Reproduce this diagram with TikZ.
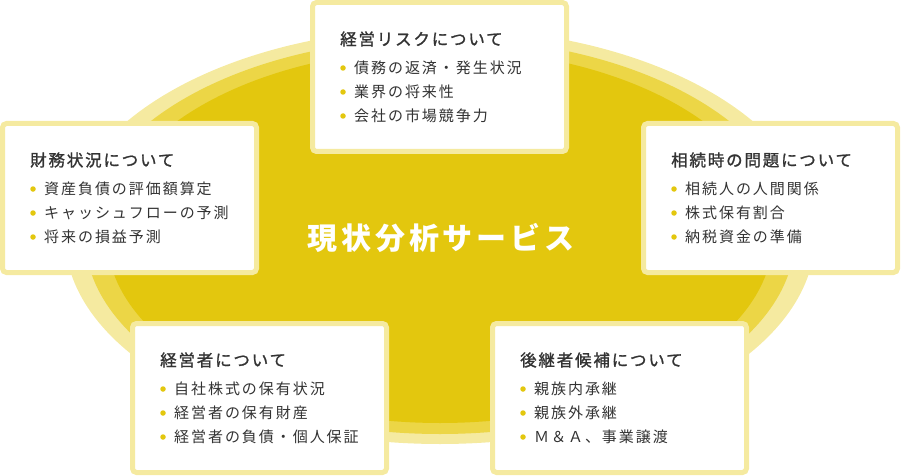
\documentclass[tikz,border=0pt]{standalone}
\usepackage{fontspec}
\newfontfamily\jptitle[LetterSpace=11, FakeBold=1.2]{Noto Sans CJK JP}
\newfontfamily\jpitem[LetterSpace=13]{Noto Sans CJK JP}
\newfontfamily\jpcenter[LetterSpace=13]{Noto Sans CJK JP}
\definecolor{ringA}{RGB}{245,234,160}
\definecolor{ringB}{RGB}{236,214,70}
\definecolor{ringC}{RGB}{227,199,14}
\definecolor{txt}{RGB}{51,51,51}
\definecolor{dotc}{RGB}{227,199,14}
\tikzset{
  panel/.style={draw=ringA, fill=white, line width=5pt, rounded corners=4pt,
    minimum width=254pt, minimum height=149pt, inner sep=0pt},
  ttl/.style={anchor=west, inner sep=0pt, text=txt, font=\jptitle\fontsize{16.5}{18}\selectfont},
  itm/.style={anchor=west, inner sep=0pt, text=txt, font=\jpitem\fontsize{15}{17}\selectfont},
  dot/.style={circle, fill=dotc, inner sep=0pt, minimum size=5.5pt},
  ctr/.style={inner sep=0pt, text=white, font=\jpcenter\bfseries\fontsize{30}{32}\selectfont}
}
\newcommand\mypanel[7]{%
  \node[panel] (#1) at (#2+129.5,#3+77) {};
  \node[ttl] (#1-t) at (#2+30,#3+39) {#4};
  \node[dot] (#1-d1) at (#2+33,#3+68) {};
  \node[itm] (#1-i1) at (#2+44,#3+68) {#5};
  \node[dot] (#1-d2) at (#2+33,#3+92) {};
  \node[itm] (#1-i2) at (#2+44,#3+92) {#6};
  \node[dot] (#1-d3) at (#2+33,#3+116) {};
  \node[itm] (#1-i3) at (#2+44,#3+116) {#7};
}
\begin{document}
\begin{tikzpicture}[x=1pt,y=-1pt]
\useasboundingbox (0,0) rectangle (902,476);
\fill[ringA] (440,236) ellipse [x radius=375pt, y radius=208pt];
\fill[ringB] (440,236) ellipse [x radius=355pt, y radius=198pt];
\fill[ringC] (440,236) ellipse [x radius=333pt, y radius=187pt];
\node[ctr] (center) at (441,238) {現状分析サービス};
\mypanel{risk}{310}{0}{経営リスクについて}{債務の返済・発生状況}{業界の将来性}{会社の市場競争力}
\mypanel{fin}{0}{121}{財務状況について}{資産負債の評価額算定}{キャッシュフローの予測}{将来の損益予測}
\mypanel{inh}{641}{121}{相続時の問題について}{相続人の人間関係}{株式保有割合}{納税資金の準備}
\mypanel{mgr}{130}{321}{経営者について}{自社株式の保有状況}{経営者の保有財産}{経営者の負債・個人保証}
\mypanel{suc}{490}{321}{後継者候補について}{親族内承継}{親族外承継}{Ｍ＆Ａ、事業譲渡}
\end{tikzpicture}
\end{document}
